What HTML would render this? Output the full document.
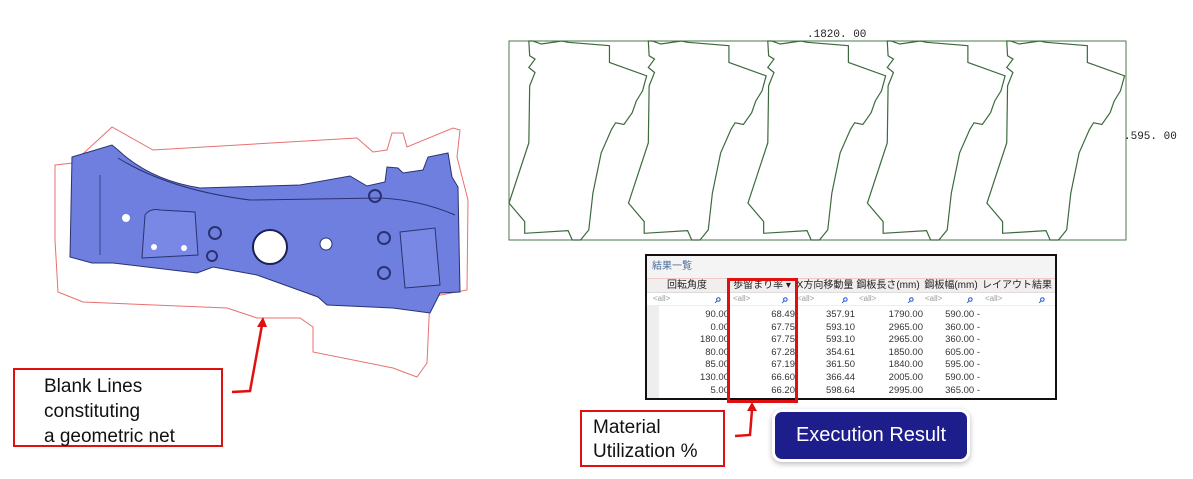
<!DOCTYPE html>
<html><head><meta charset="utf-8"><style>
body{margin:0;width:1193px;height:479px;background:#fff;position:relative;overflow:hidden;font-family:"Liberation Sans","Noto Sans CJK JP",sans-serif}
.abs{position:absolute}
.tbl{left:645px;top:254px;width:408px;height:142px;border:2px solid #111;background:#fff;overflow:hidden}
.title{height:22px;background:#f4f4f4;border-bottom:1px solid #f0c8c8;font-size:10px;color:#4a6a9a;line-height:22px;padding-left:5px}
.row{position:relative;height:12.6px;font-size:9.5px;line-height:12.6px;color:#333}
.row span{position:absolute;text-align:right}
.hdr{height:13px;background:#f2eeee;border-bottom:1px solid #ddd;font-size:10px;line-height:13px;color:#222}
.hdr span{position:absolute;text-align:center}
.flt{height:12px;font-size:8px;color:#999;line-height:12px;border-bottom:1px solid #eee}
.flt span{position:absolute}
.mg{color:#2a5fd0;font-weight:bold;font-size:12px}
</style></head><body>
<svg class="abs" style="left:0;top:0" width="1193" height="479">
<polygon fill="none" stroke="#e87070" stroke-width="1" points="55,165 73,163 112,127 153,150 357,138 373,152 387,150 392,133 403,133 407,147 453,128 460,130 457,157 468,200 467,290 430,297 427,363 417,377 393,368 313,352 313,327 300,318 257,318 227,308 83,302 58,292 55,240"/>
<path fill="#6f7fe0" stroke="#2a3270" stroke-width="1" d="M72,157 L112,145 L118,150 Q150,180 200,188 L300,185 L350,176 L367,186 L385,182 L387,167 L398,168 L403,173 L423,170 L428,157 L448,153 L452,177 L458,187 L460,292 L440,293 L430,313 L393,308 L327,305 L318,297 L257,275 L213,267 L197,273 L113,263 L92,263 L70,257 Z"/>
<path d="M118,158 Q170,190 250,200 L380,198 Q420,200 455,215" fill="none" stroke="#2a3270" stroke-width="1"/>
<path d="M100,175 L100,255" fill="none" stroke="#2a3270" stroke-width="0.8"/>
<path d="M145,215 Q150,208 160,210 L195,212 L198,255 L142,258 Z" fill="#7888e4" stroke="#2a3270"/>
<path d="M400,232 L435,228 L440,285 L405,288 Z" fill="#7888e4" stroke="#2a3270"/>
<circle cx="270" cy="247" r="17" fill="#fff" stroke="#1a2050" stroke-width="2"/>
<circle cx="326" cy="244" r="6" fill="#fff" stroke="#2a3270"/>
<circle cx="126" cy="218" r="4" fill="#fff"/><circle cx="154" cy="247" r="3" fill="#fff"/><circle cx="184" cy="248" r="3" fill="#fff"/>
<circle cx="215" cy="233" r="6" fill="none" stroke="#2a3270" stroke-width="2"/><circle cx="212" cy="256" r="5" fill="none" stroke="#2a3270" stroke-width="2"/>
<circle cx="384" cy="238" r="6" fill="none" stroke="#2a3270" stroke-width="2"/><circle cx="384" cy="273" r="6" fill="none" stroke="#2a3270" stroke-width="2"/>
<circle cx="375" cy="196" r="6" fill="none" stroke="#2a3270" stroke-width="2"/>
<polyline points="232,392 250,391 262,325" fill="none" stroke="#e01010" stroke-width="2.5"/>
<polygon points="257,327 267,327 263,317" fill="#e01010"/>
<polyline points="735,436 750,435 752,410" fill="none" stroke="#e01010" stroke-width="2.5"/>
<polygon points="747,411 757,411 752,402" fill="#e01010"/>
<rect x="509" y="41" width="617" height="199" fill="#fff" stroke="#4a7a4a" stroke-width="1"/>
<g transform="translate(509,41) scale(0.4134,0.335)">
<g id="sh"><path vector-effect="non-scaling-stroke" fill="none" stroke="#3d6a3d" stroke-width="1.2" d="M48,0 L50,44 L63,54 L48,79 L63,94 L50,134 L48,304 L0,484 L38,539 L38,574 L143,566 L153,594 L173,594 L193,564 L203,454 L223,334 L248,264 L258,244 L278,249 L298,214 L308,179 L323,149 L333,104 L243,64 L243,14 L143,4 L128,0 L78,9 L58,0 Z"/></g>
<use href="#sh" x="289"/><use href="#sh" x="578"/><use href="#sh" x="867"/><use href="#sh" x="1156"/>
</g>
<text x="807" y="37" font-family="Liberation Mono,monospace" font-size="11" fill="#222">.1820. 00</text>
<text x="1124" y="139" font-family="Liberation Mono,monospace" font-size="11" fill="#222">.595. 00</text>
</svg>

<div class="abs tbl">
<div class="title">結果一覧</div>
<div class="row hdr"><span style="left:0;width:80px">回転角度</span><span style="left:82px;width:66px">歩留まり率 ▾</span><span style="left:148px;width:60px">X方向移動量</span><span style="left:208px;width:66px">鋼板長さ(mm)</span><span style="left:276px;width:56px">鋼板幅(mm)</span><span style="left:334px;width:72px">レイアウト結果</span></div>
<div class="row flt"><span style="left:6px">&lt;all&gt;</span><span class="mg" style="left:68px">&#x2315;</span><span style="left:86px">&lt;all&gt;</span><span class="mg" style="left:135px">&#x2315;</span><span style="left:150px">&lt;all&gt;</span><span class="mg" style="left:195px">&#x2315;</span><span style="left:212px">&lt;all&gt;</span><span class="mg" style="left:261px">&#x2315;</span><span style="left:278px">&lt;all&gt;</span><span class="mg" style="left:320px">&#x2315;</span><span style="left:338px">&lt;all&gt;</span><span class="mg" style="left:392px">&#x2315;</span></div>
<div class="abs" style="left:0;top:50px;width:12px;height:92px;background:#eee"></div>
<div style="position:relative;top:3px">
<div class="row"><span style="right:326px">90.00</span><span style="right:260px">68.49</span><span style="right:200px">357.91</span><span style="right:132px">1790.00</span><span style="right:75px">590.00 -</span></div>
<div class="row"><span style="right:326px">0.00</span><span style="right:260px">67.75</span><span style="right:200px">593.10</span><span style="right:132px">2965.00</span><span style="right:75px">360.00 -</span></div>
<div class="row"><span style="right:326px">180.00</span><span style="right:260px">67.75</span><span style="right:200px">593.10</span><span style="right:132px">2965.00</span><span style="right:75px">360.00 -</span></div>
<div class="row"><span style="right:326px">80.00</span><span style="right:260px">67.28</span><span style="right:200px">354.61</span><span style="right:132px">1850.00</span><span style="right:75px">605.00 -</span></div>
<div class="row"><span style="right:326px">85.00</span><span style="right:260px">67.19</span><span style="right:200px">361.50</span><span style="right:132px">1840.00</span><span style="right:75px">595.00 -</span></div>
<div class="row"><span style="right:326px">130.00</span><span style="right:260px">66.60</span><span style="right:200px">366.44</span><span style="right:132px">2005.00</span><span style="right:75px">590.00 -</span></div>
<div class="row"><span style="right:326px">5.00</span><span style="right:260px">66.20</span><span style="right:200px">598.64</span><span style="right:132px">2995.00</span><span style="right:75px">365.00 -</span></div>
</div>
</div>
<div class="abs" style="left:727px;top:278px;width:65px;height:119px;border:3px solid #e01010"></div>

<div class="abs" style="left:13px;top:368px;width:210px;height:79px;border:2px solid #e01010;font-size:19px;line-height:25px;padding:0 0 0 29px;box-sizing:border-box;padding-top:4px;color:#111">Blank Lines<br>constituting<br>a geometric net</div>
<div class="abs" style="left:580px;top:410px;width:145px;height:57px;border:2px solid #e01010;font-size:19px;line-height:24px;padding:4px 0 0 11px;box-sizing:border-box;color:#111">Material<br>Utilization %</div>
<div class="abs" style="left:775px;top:412px;width:192px;height:47px;background:#1d1d8c;border-radius:7px;box-shadow:0 0 0 3px #fff,0 2px 6px 3px #bbb;color:#fff;font-size:20px;line-height:47px;text-align:center">Execution Result</div>
</body></html>
